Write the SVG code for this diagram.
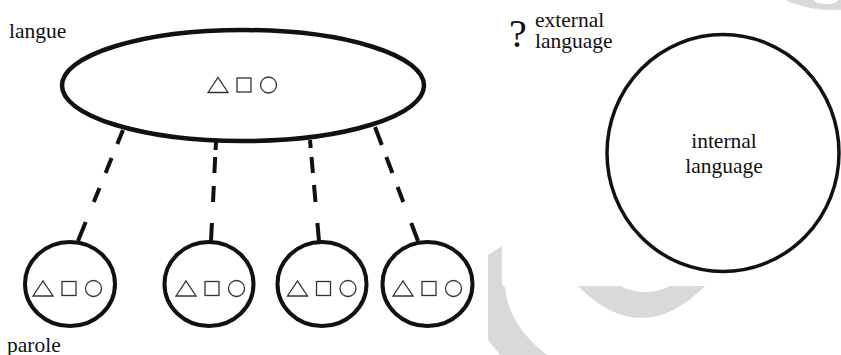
<svg xmlns="http://www.w3.org/2000/svg" xmlns:xlink="http://www.w3.org/1999/xlink" width="841" height="355" viewBox="0 0 841 355">
<style>
.node{fill:none;stroke:#111;}
.sym{fill:none;stroke:#333;stroke-width:1.3;}
.conn{fill:none;stroke:#111;stroke-width:4;stroke-linecap:butt;}
.wm{fill:#d9d9d9;}
</style>
<defs>
<g id="shapes">
<polygon class="sym" points="-10,7.5 0,-7.5 10,7.5"/>
<rect class="sym" x="19" y="-7" width="14" height="14"/>
<circle class="sym" cx="50.5" cy="0" r="8"/>
</g>
</defs>
<rect width="841" height="355" fill="#fff"/>
<g id="watermark">
<path class="wm" d="M488,255 L502,246 L502,285 L505,287 Q508,325 547,355 L500,355 L488,340 Z"/>
<path class="wm" d="M578,286 Q641,350 705,286 L670,286 Q646,298 620,286 Z"/>
<path class="wm" d="M785,0 L841,0 L841,10 Q808,11 785,0 Z"/>
<ellipse cx="826" cy="0" rx="12" ry="4" fill="#fff"/>
</g>
<g id="connectors">
<path class="conn" d="M123,130 L117.3,144 M111.6,158 L105.6,173 M99.5,188 L93.8,202 M85.7,222 L78,241"/>
<path class="conn" d="M216,142 L215.6,150 M215.2,157 L214.4,173 M213.8,186 L213,202 M211.9,223 L211,241"/>
<path class="conn" d="M310,140 L310.7,148 M311.5,157 L312.9,173 M314,185 L315.5,202 M317.4,223 L319,241"/>
<path class="conn" d="M375,127 L381.8,145 M386.3,157 L392.4,173 M397.6,187 L403.3,202 M411.2,223 L418,241"/>
</g>
<g font-family="'Liberation Serif', 'Times New Roman', serif" font-size="21.5" fill="#111">
<g id="langue">
<ellipse class="node" cx="243" cy="85.5" rx="181" ry="55.5" stroke-width="4.5"/>
<use xlink:href="#shapes" href="#shapes" transform="translate(218,85)"/>
<text x="9" y="37.5">langue</text>
</g>
<g id="parole1">
<ellipse class="node" cx="70" cy="284" rx="45" ry="42" stroke-width="4"/>
<use xlink:href="#shapes" href="#shapes" transform="translate(43,288.5)"/>
</g>
<g id="parole2">
<ellipse class="node" cx="209" cy="284" rx="44.5" ry="42" stroke-width="4"/>
<use xlink:href="#shapes" href="#shapes" transform="translate(186,288.5)"/>
</g>
<g id="parole3">
<ellipse class="node" cx="322" cy="284" rx="44.5" ry="42" stroke-width="4"/>
<use xlink:href="#shapes" href="#shapes" transform="translate(297.5,288.5)"/>
</g>
<g id="parole4">
<ellipse class="node" cx="427.5" cy="284" rx="45" ry="42" stroke-width="4"/>
<use xlink:href="#shapes" href="#shapes" transform="translate(403,288.5)"/>
</g>
<g id="parole-label">
<text x="7" y="352">parole</text>
</g>
<g id="external">
<text x="509" y="47" font-size="40">?</text>
<text x="535" y="26.5">external</text>
<text x="535" y="47.5">language</text>
</g>
<g id="internal">
<ellipse class="node" cx="723" cy="153" rx="116" ry="118.5" stroke-width="3.5"/>
<text x="724" y="148" text-anchor="middle">internal</text>
<text x="724" y="173" text-anchor="middle">language</text>
</g>
</g>
</svg>
